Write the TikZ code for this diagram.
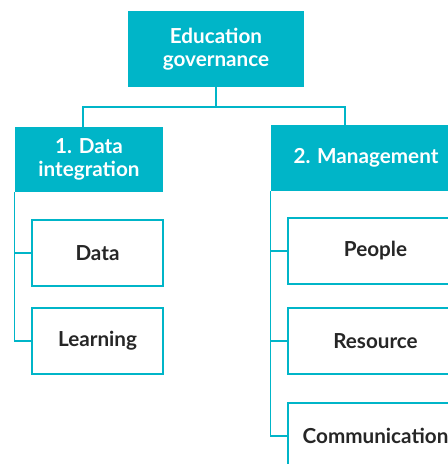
\documentclass[tikz,border=0pt]{standalone}
\usepackage{fontspec}
\setmainfont{Lato}
\definecolor{govcyan}{HTML}{00B5C8}
\definecolor{govtext}{HTML}{262626}

\begin{document}
\begin{tikzpicture}[x=0.75pt,y=-0.75pt,
    head/.style={fill=govcyan,text=white,align=center,inner sep=0pt,
      font=\bfseries\fontsize{15.5}{17.5}\selectfont},
    item/.style={draw=govcyan,line width=1.1pt,fill=white,text=govtext,inner sep=0pt,
      minimum height=49.5pt,font=\bfseries\fontsize{15.5}{17.5}\selectfont},
    link/.style={draw=govcyan,line width=1.1pt}]
  \useasboundingbox (0,0) rectangle (448,464);
  \clip (0,0) rectangle (448,464);

  % Top level
  \node[head,minimum width=132pt,minimum height=57pt] (gov) at (216,49) {Education\\governance};
  \node[head,minimum width=111pt,minimum height=48.75pt] (integ) at (89,159.5) {1. Data\\integration};
  \node[head,minimum width=142.5pt,minimum height=49.5pt] (mgmt) at (366,158) {2. Management};

  % Tree lines
  \coordinate (bus) at (216,107);
  \draw[link] (gov.south) -- (bus);
  \draw[link] (bus) -| ([xshift=-4.5pt]integ.north);
  \draw[link] (bus) -| ([xshift=-15.75pt]mgmt.north);

  % Sub items
  \node[item,minimum width=98.25pt] (data) at (97.5,253) {Data};
  \node[item,minimum width=98.25pt] (learn) at (97.5,341) {Learning};
  \node[item,minimum width=131.25pt] (people) at (375.5,251) {People};
  \node[item,minimum width=131.25pt] (res) at (375.5,341) {Resource};
  \node[item,minimum width=131.25pt] (comm) at (375.5,436) {Communication};

  \draw[link] (integ.south west) |- (learn.west);
  \draw[link] (integ.south west |- data.west) -- (data.west);
  \draw[link] (mgmt.south west) |- (comm.west);
  \draw[link] (mgmt.south west |- people.west) -- (people.west);
  \draw[link] (mgmt.south west |- res.west) -- (res.west);
\end{tikzpicture}
\end{document}
